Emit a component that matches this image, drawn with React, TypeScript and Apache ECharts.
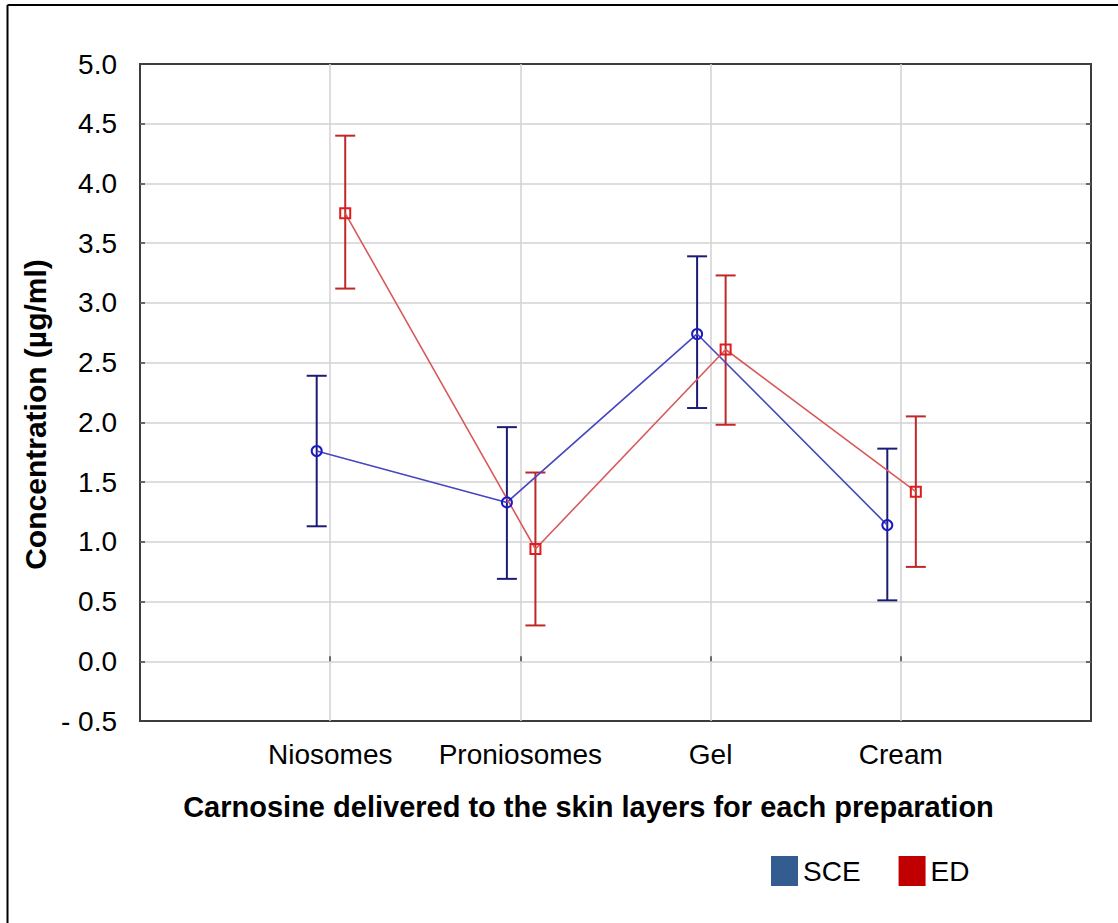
import React, { useEffect, useRef } from 'react';
import * as echarts from 'echarts';

const categories = ['Niosomes', 'Proniosomes', 'Gel', 'Cream'];
const seriesNames = ['SCE', 'ED'];
const sceMean = [1.76, 1.33, 2.74, 1.14];
const sceLow = [1.13, 0.69, 2.12, 0.51];
const sceHigh = [2.39, 1.96, 3.39, 1.78];
const edMean = [3.75, 0.94, 2.61, 1.42];
const edLow = [3.12, 0.3, 1.98, 0.79];
const edHigh = [4.4, 1.58, 3.23, 2.05];
const yMin = -0.5;
const yMax = 5;
const yStep = 0.5;

const FONT = "'Liberation Sans', Arial, sans-serif";

export default function App() {
  const ref = useRef<HTMLDivElement>(null);
  useEffect(() => {
    const chart = echarts.init(ref.current as HTMLDivElement, null, { renderer: 'svg' });
    const catPos = categories.map((_, i) => i + 1);
    const sceX = catPos.map((p) => p - 0.071);
    const edX = catPos.map((p) => p + 0.079);

    const errSeries = (name: string, xs: number[], low: number[], high: number[], color: string) => ({
      type: 'custom',
      name,
      z: 3,
      data: low.map((l, i) => [xs[i], l, high[i]]),
      encode: { x: 0, y: [1, 2] },
      renderItem: (params: any, api: any) => {
        const xv = api.value(0);
        const p1 = api.coord([xv, api.value(1)]);
        const p2 = api.coord([xv, api.value(2)]);
        const hw = 10;
        const style = { stroke: color, lineWidth: 2 };
        return {
          type: 'group',
          children: [
            { type: 'line', shape: { x1: p1[0], y1: p1[1], x2: p2[0], y2: p2[1] }, style },
            { type: 'line', shape: { x1: p1[0] - hw, y1: p1[1], x2: p1[0] + hw, y2: p1[1] }, style },
            { type: 'line', shape: { x1: p2[0] - hw, y1: p2[1], x2: p2[0] + hw, y2: p2[1] }, style },
          ],
        };
      },
    });

    const lineSeries = (name: string, xs: number[], mean: number[], symbol: string, lineColor: string, markColor: string) => ({
      type: 'line',
      name,
      z: 5,
      data: mean.map((m, i) => [xs[i], m]),
      symbol,
      symbolSize: 10,
      showSymbol: true,
      itemStyle: { color: 'rgba(255,255,255,0)', borderColor: markColor, borderWidth: 2 },
      lineStyle: { color: lineColor, width: 1.6 },
      emphasis: { disabled: true },
    });

    const option: any = {
      animation: false,
      backgroundColor: '#ffffff',
      textStyle: { fontFamily: FONT, color: '#000' },
      graphic: [
        { type: 'line', shape: { x1: 7.5, y1: 5, x2: 7.5, y2: 923 }, style: { stroke: '#000', lineWidth: 2 } },
        { type: 'line', shape: { x1: 7.5, y1: 5, x2: 1118, y2: 5 }, style: { stroke: '#000', lineWidth: 2 } },
      ],
      grid: {
        left: 140,
        top: 64,
        width: 951,
        height: 657,
        show: true,
        borderColor: '#3c3c3c',
        borderWidth: 2,
        backgroundColor: '#ffffff',
      },
      legend: {
        left: 771,
        top: 856,
        padding: 0,
        itemWidth: 27,
        itemHeight: 30,
        itemGap: 38,
        icon: 'rect',
        textStyle: { fontSize: 28, color: '#000', fontFamily: FONT },
        data: [
          { name: seriesNames[0], icon: 'rect', itemStyle: { color: '#335d90', borderWidth: 0 } },
          { name: seriesNames[1], icon: 'rect', itemStyle: { color: '#c00000', borderWidth: 0 } },
        ],
        selectedMode: false,
      },
      xAxis: {
        type: 'value',
        min: 0,
        max: 5,
        interval: 1,
        axisLine: { show: false },
        axisTick: { show: true, inside: true, length: 5, lineStyle: { color: '#404040', width: 1.5 } },
        splitLine: { show: true, showMinLine: false, showMaxLine: false, lineStyle: { color: '#d2d2d2', width: 1.5 } },
        axisLabel: {
          formatter: (v: number) => categories[v - 1] ?? '',
          fontSize: 28,
          color: '#000',
          margin: 19,
          fontFamily: FONT,
        },
        name: 'Carnosine delivered to the skin layers for each preparation',
        nameLocation: 'middle',
        nameGap: 71,
        nameTextStyle: { fontSize: 29, fontWeight: 'bold', color: '#000', padding: [0, 54, 0, 0], fontFamily: FONT },
      },
      yAxis: [
        {
          type: 'value',
          min: yMin,
          max: yMax,
          interval: yStep,
          axisLine: { show: false },
          axisTick: { show: true, inside: true, length: 5, lineStyle: { color: '#404040', width: 1.5 } },
          splitLine: { show: true, showMinLine: false, showMaxLine: false, lineStyle: { color: '#d2d2d2', width: 1.5 } },
          axisLabel: {
            formatter: (v: number) => (v < 0 ? '- ' + Math.abs(v).toFixed(1) : v.toFixed(1)),
            fontSize: 28,
            color: '#000',
            margin: 23,
            fontFamily: FONT,
          },
          name: 'Concentration (µg/ml)',
          nameLocation: 'middle',
          nameGap: 85,
          nameTextStyle: { fontSize: 30, fontWeight: 'bold', color: '#000', padding: [0, 44, 0, 0], fontFamily: FONT },
        },
        {
          type: 'value',
          position: 'right',
          min: yMin,
          max: yMax,
          interval: yStep,
          axisLine: { show: false },
          axisTick: { show: true, inside: true, length: 5, lineStyle: { color: '#404040', width: 1.5 } },
          splitLine: { show: false },
          axisLabel: { show: false },
        },
      ],
      series: [
        errSeries('SCE error', sceX, sceLow, sceHigh, '#1c1c78'),
        errSeries('ED error', edX, edLow, edHigh, '#c02828'),
        lineSeries(seriesNames[0], sceX, sceMean, 'circle', '#4646c0', '#1a1ac8'),
        lineSeries(seriesNames[1], edX, edMean, 'rect', '#d85a5a', '#e01c1c'),
      ],
    };
    chart.setOption(option);
    return () => chart.dispose();
  }, []);

  return (
    <div
      ref={ref}
      style={{ position: 'absolute', left: 0, top: 0, width: 1118, height: 923, background: '#ffffff' }}
    />
  );
}
